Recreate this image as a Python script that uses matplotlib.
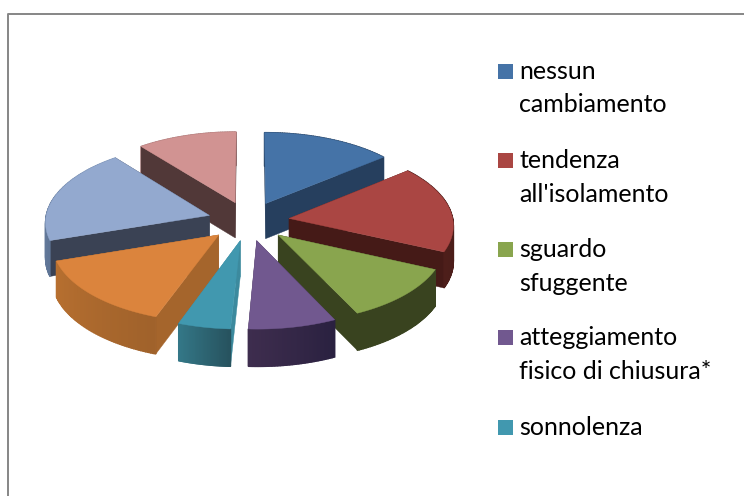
from __future__ import annotations

import matplotlib

matplotlib.use("Agg")
import matplotlib.pyplot as plt
import numpy as np
from matplotlib.patches import Polygon, Rectangle

# share of each slice in percent, clockwise from 12 o'clock
values = [14.0, 17.8, 11.1, 7.9, 4.7, 14.4, 19.4, 10.7]
legend_labels = [
    ["nessun", "cambiamento"],
    ["tendenza", "all'isolamento"],
    ["sguardo", "sfuggente"],
    ["atteggiamento", "fisico di chiusura*"],
    ["sonnolenza"],
]
top_colors = ["#4573a7", "#aa4643", "#89a54e", "#71588f", "#4198af", "#db843d", "#93a9cf", "#d19392"]
cut_colors = ["#263f5e", "#451a17", "#39431f", "#3e2d4e", "#3c8a9e", "#a5652c", "#3a4254", "#513838"]
arc_near = ["#2a4566", "#4d1e1a", "#39431f", "#3e2d4e", "#347888", "#b87030", "#7f96b8", "#b07c7b"]
arc_far = ["#2a4566", "#451a17", "#39431f", "#2a2140", "#27535f", "#a0622b", "#5f7596", "#b07c7b"]

CX, CY = 248.5, 221.0
RX, A, K = 164.0, 78.7, 0.075
EXPLODE, DEPTH = 0.25, 35.5


def project(x, y):
    # simple perspective, the far side of the disc is squeezed
    x = np.asarray(x, dtype=float)
    y = np.asarray(y, dtype=float)
    w = 1 + K * y
    return CX + RX * x / w, CY - A * y / w


def depth_at(y):
    return DEPTH - 1.5 * y


def blend(c1, c2, t):
    a = np.array(matplotlib.colors.to_rgb(c1))
    b = np.array(matplotlib.colors.to_rgb(c2))
    return a + (b - a) * t


def draw_slice(ax, start, end, idx):
    mid = np.radians((start + end) / 2)
    tx, ty = EXPLODE * np.cos(mid), EXPLODE * np.sin(mid)
    t = np.radians(np.linspace(start, end, 60))
    ax_x, ax_y = tx + np.cos(t), ty + np.sin(t)
    px, py = project(ax_x, ax_y)
    tip_x, tip_y = project(tx, ty)
    d = depth_at(ax_y)
    tip_d = depth_at(ty)

    faces = []
    for i in [0, -1]:
        quad = [(tip_x, tip_y), (px[i], py[i]), (px[i], py[i] + d[i]), (tip_x, tip_y + tip_d)]
        faces.append(((ty + ax_y[i]) / 2, quad, cut_colors[idx], 0.3))
    for i in range(len(t) - 1):
        quad = [(px[i], py[i]), (px[i + 1], py[i + 1]), (px[i + 1], py[i + 1] + d[i + 1]), (px[i], py[i] + d[i])]
        faces.append((ax_y[i], quad, blend(arc_near[idx], arc_far[idx], i / (len(t) - 2)), 1.0))
    # far faces first
    for _, quad, color, lw in sorted(faces, key=lambda f: -f[0]):
        ax.add_patch(Polygon(quad, closed=True, facecolor=color, edgecolor=color, linewidth=lw))
    top = np.column_stack([np.r_[tip_x, px], np.r_[tip_y, py]])
    ax.add_patch(Polygon(top, closed=True, facecolor=top_colors[idx], edgecolor=top_colors[idx], linewidth=0.3))


fig = plt.figure(figsize=(7.44, 4.96), dpi=100)
ax = fig.add_axes([0, 0, 1, 1])
ax.set_xlim(0, 744)
ax.set_ylim(496, 0)
ax.axis("off")

# chart frame, the picture is cropped on the right and at the bottom
ax.plot([8.2, 8.2, 744], [496, 14.3, 14.3], color="#868686", linewidth=1.4)

angles = 90 - np.cumsum(np.r_[0, values]) * 3.6 / (sum(values) / 100)
bounds = [(angles[i + 1], angles[i]) for i in range(len(values))]
order = sorted(range(len(values)), key=lambda i: -np.sin(np.radians(sum(bounds[i]) / 2)))
for i in order:
    draw_slice(ax, bounds[i][0], bounds[i][1], i)

baselines = [[79, 112], [168, 202], [257, 291], [345, 379], [435]]
for i, lines in enumerate(legend_labels):
    base = baselines[i]
    ax.add_patch(Rectangle((498, base[0] - 15), 15, 15, facecolor=top_colors[i], edgecolor="none"))
    for line, y in zip(lines, base):
        ax.text(519, y, line, fontsize=18, family="Lato", color="#000000", va="baseline", ha="left")

fig.savefig("out.png", dpi=100)
plt.close(fig)
